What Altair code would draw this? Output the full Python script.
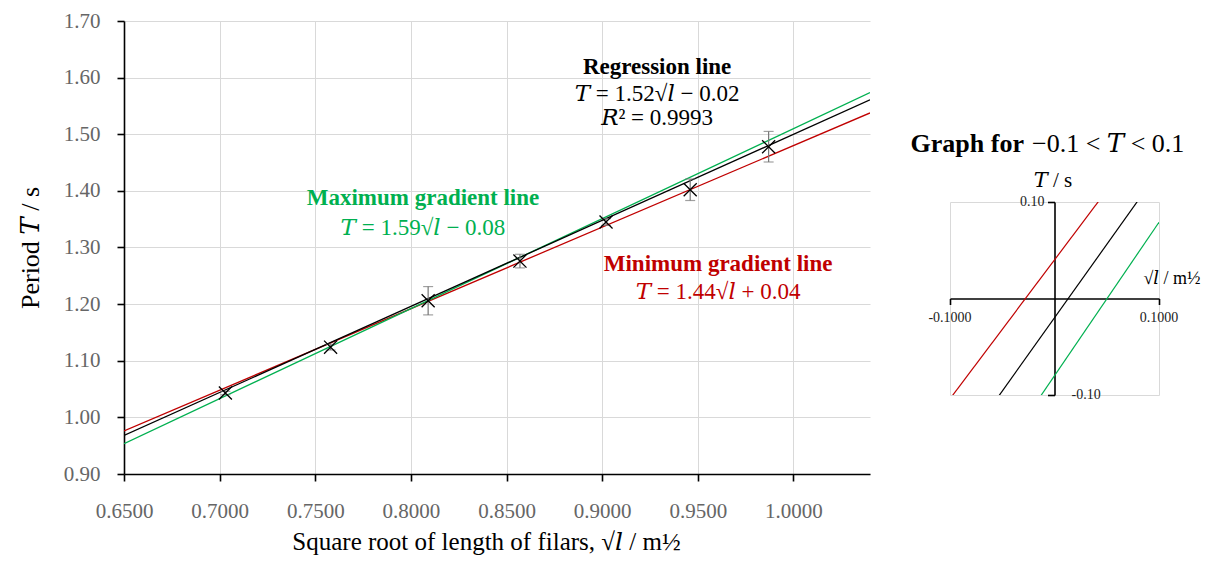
import altair as alt
import pandas as pd

# ---------------- data ----------------
sqrt_l = [0.703, 0.758, 0.809, 0.857, 0.902, 0.946, 0.987]
period = [1.043, 1.124, 1.206, 1.276, 1.345, 1.402, 1.478]
period_err = [0.003, 0.005, 0.025, 0.012, 0.006, 0.019, 0.027]

line_names = ["Regression line", "Maximum gradient line", "Minimum gradient line"]
slopes = [1.52, 1.59, 1.44]
intercepts = [-0.02, -0.08, 0.04]
line_colors = ["#000000", "#00b050", "#c00000"]

x_ticks = [0.65, 0.70, 0.75, 0.80, 0.85, 0.90, 0.95, 1.00]
y_ticks = [0.9, 1.0, 1.1, 1.2, 1.3, 1.4, 1.5, 1.6, 1.7]
main_x_domain = [0.65, 1.04]
main_y_domain = [0.9, 1.7]
inset_domain = [-0.1, 0.1]

# annotation text (positions in data units of the main chart)
ann_x = [0.9287, 0.9287, 0.9287, 0.8063, 0.8063, 0.9606, 0.9606]
ann_y = [1.619, 1.571, 1.529, 1.3876, 1.3346, 1.271, 1.2216]
ann_text = ["Regression line", "𝑇 = 1.52√𝑙 − 0.02", "𝑅² = 0.9993",
            "Maximum gradient line", "𝑇 = 1.59√𝑙 − 0.08",
            "Minimum gradient line", "𝑇 = 1.44√𝑙 + 0.04"]
ann_color = ["#000000", "#000000", "#000000", "#00b050", "#00b050", "#c00000", "#c00000"]
ann_bold = [True, False, False, True, False, True, False]

FONT = "Liberation Serif, DejaVu Serif"
GRID = "#d9d9d9"

pts = pd.DataFrame({"x": sqrt_l, "T": period, "e": period_err})
lines_main = pd.DataFrame([
    {"name": n, "m": m, "c": c, "x": xv}
    for n, m, c in zip(line_names, slopes, intercepts) for xv in main_x_domain
])
lines_inset = pd.DataFrame([
    {"name": n, "m": m, "c": c, "x": xv}
    for n, m, c in zip(line_names, slopes, intercepts) for xv in inset_domain
])
ann = pd.DataFrame({"x": ann_x, "T": ann_y, "text": ann_text, "col": ann_color, "bold": ann_bold})
color_of = dict(zip(line_names, line_colors))

# ---------------- main chart ----------------
x_axis = alt.Axis(values=x_ticks, format=".4f", grid=True, gridColor=GRID, gridWidth=1,
                  domainColor="black", domainWidth=1.6, tickColor="black", tickSize=7, tickWidth=1.6,
                  labelFont=FONT, labelFontSize=21, labelColor="#666666", labelPadding=19,
                  labelFlush=False,
                  title="Square root of length of filars, √𝑙 / m½", titleFont=FONT, titleFontSize=25,
                  titleFontWeight="normal", titleColor="black", titlePadding=8, titleX=362)
y_axis = alt.Axis(values=y_ticks, format=".2f", grid=True, gridColor=GRID, gridWidth=1,
                  domainColor="black", domainWidth=1.6, tickColor="black", tickSize=7, tickWidth=1.6,
                  labelFont=FONT, labelFontSize=21, labelColor="#666666", labelPadding=17,
                  labelFlush=False,
                  title="Period 𝑇 / s", titleFont=FONT, titleFontSize=26,
                  titleFontWeight="normal", titleColor="black", titlePadding=20)
xs = alt.Scale(domain=main_x_domain, nice=False, zero=False)
ys = alt.Scale(domain=main_y_domain, nice=False, zero=False)
X = alt.X("x:Q", scale=xs, axis=x_axis)
Y = alt.Y("T:Q", scale=ys, axis=y_axis)

layers = []
for name in ["Minimum gradient line", "Maximum gradient line", "Regression line"]:
    layers.append(
        alt.Chart(lines_main)
        .transform_filter(alt.datum.name == name)
        .transform_calculate(T="datum.m * datum.x + datum.c")
        .mark_line(color=color_of[name], strokeWidth=1.3, clip=True)
        .encode(x=X, y=Y)
    )

err_base = alt.Chart(pts).transform_calculate(lo="datum.T - datum.e", hi="datum.T + datum.e")
layers.append(err_base.mark_rule(color="#777777", strokeWidth=1.2).encode(
    x=X, y=alt.Y("lo:Q", scale=ys, axis=y_axis), y2="hi:Q"))
for f in ["lo", "hi"]:
    layers.append(err_base.mark_tick(color="#777777", thickness=1.2, size=10, orient="horizontal").encode(
        x=X, y=alt.Y(f + ":Q", scale=ys, axis=y_axis)))

layers.append(alt.Chart(pts).mark_point(shape="M-1,-1L1,1M1,-1L-1,1", size=170, filled=False,
                                         color="black", strokeWidth=1.3, opacity=1).encode(x=X, y=Y))

for bold in [True, False]:
    layers.append(
        alt.Chart(ann).transform_filter(alt.datum.bold == bold)
        .mark_text(font=FONT, fontSize=23, fontWeight="bold" if bold else "normal",
                   align="center", baseline="middle")
        .encode(x=X, y=Y, text="text:N", color=alt.Color("col:N", scale=None))
    )

main = alt.layer(*layers).properties(width=746, height=453,
                                     view=alt.ViewBackground(stroke="transparent"))

# ---------------- inset chart ----------------
ixs = alt.Scale(domain=inset_domain, nice=False, zero=False)
iys = alt.Scale(domain=inset_domain, nice=False, zero=False)
iX = alt.X("x:Q", scale=ixs, axis=alt.Axis(values=inset_domain, labels=False, grid=False, title=None,
                                           domainColor="black", domainWidth=1.6, tickColor="black",
                                           tickSize=6, tickWidth=1.6, offset=-96.5))
iY = alt.Y("T:Q", scale=iys, axis=alt.Axis(values=inset_domain, labels=False, grid=False, title=None,
                                           domainColor="black", domainWidth=1.6, tickColor="black",
                                           tickSize=7, tickWidth=1.6, offset=-104.5))

ilayers = []
for name in ["Minimum gradient line", "Maximum gradient line", "Regression line"]:
    ilayers.append(
        alt.Chart(lines_inset)
        .transform_filter(alt.datum.name == name)
        .transform_calculate(T="datum.m * datum.x + datum.c")
        .mark_line(color=color_of[name], strokeWidth=1.2, clip=True)
        .encode(x=iX, y=iY)
    )

ilab = pd.DataFrame({"x": [-0.1, 0.1], "T": [0.0, 0.0], "text": ["-0.1000", "0.1000"]})
ilayers.append(alt.Chart(ilab).mark_text(font=FONT, fontSize=14, color="#222222", dy=19,
                                         align="center", baseline="middle")
               .encode(x=iX, y=iY, text="text:N"))
ilab_top = pd.DataFrame({"x": [0.0], "T": [0.1], "text": ["0.10"]})
ilayers.append(alt.Chart(ilab_top).mark_text(font=FONT, fontSize=14, color="#222222", dx=-10,
                                             align="right", baseline="middle")
               .encode(x=iX, y=iY, text="text:N"))
ilab_bot = pd.DataFrame({"x": [0.0], "T": [-0.1], "text": ["-0.10"]})
ilayers.append(alt.Chart(ilab_bot).mark_text(font=FONT, fontSize=14, color="#222222", dx=17,
                                             align="left", baseline="middle")
               .encode(x=iX, y=iY, text="text:N"))

ititle = pd.DataFrame({"t1": ["Graph for"], "t2": ["−0.1 < 𝑇 < 0.1"], "ya": ["𝑇 / s"],
                       "xa": ["√𝑙 / m½"]})
ilayers.append(alt.Chart(ititle).mark_text(font=FONT, fontSize=26, fontWeight="bold", align="right",
                                           baseline="middle", color="black")
               .encode(x=alt.value(74), y=alt.value(-58), text="t1:N"))
ilayers.append(alt.Chart(ititle).mark_text(font=FONT, fontSize=26, align="left",
                                           baseline="middle", color="black")
               .encode(x=alt.value(82), y=alt.value(-58), text="t2:N"))
ilayers.append(alt.Chart(ititle).mark_text(font=FONT, fontSize=21, align="center",
                                           baseline="middle", color="black")
               .encode(x=alt.value(103), y=alt.value(-21), text="ya:N"))
ilayers.append(alt.Chart(ititle).mark_text(font=FONT, fontSize=18, align="center",
                                           baseline="middle", color="black")
               .encode(x=alt.value(222), y=alt.value(77), text="xa:N"))

inset = alt.layer(*ilayers).properties(width=209, height=193,
                                       view=alt.ViewBackground(stroke=GRID))

spacer = alt.Chart(pd.DataFrame({"s": [""]})).mark_text().encode(text="s:N").properties(
    width=209, height=181, view=alt.ViewBackground(stroke="transparent"))

right = alt.vconcat(spacer, inset, spacing=0, bounds="flush")

chart = alt.hconcat(main, right, spacing=80, bounds="flush").properties(
    padding={"left": 8, "top": 1, "right": 0, "bottom": 0}
).configure_view(stroke="transparent")

chart.save("out.html", embed_options={"renderer": "svg", "actions": False})
